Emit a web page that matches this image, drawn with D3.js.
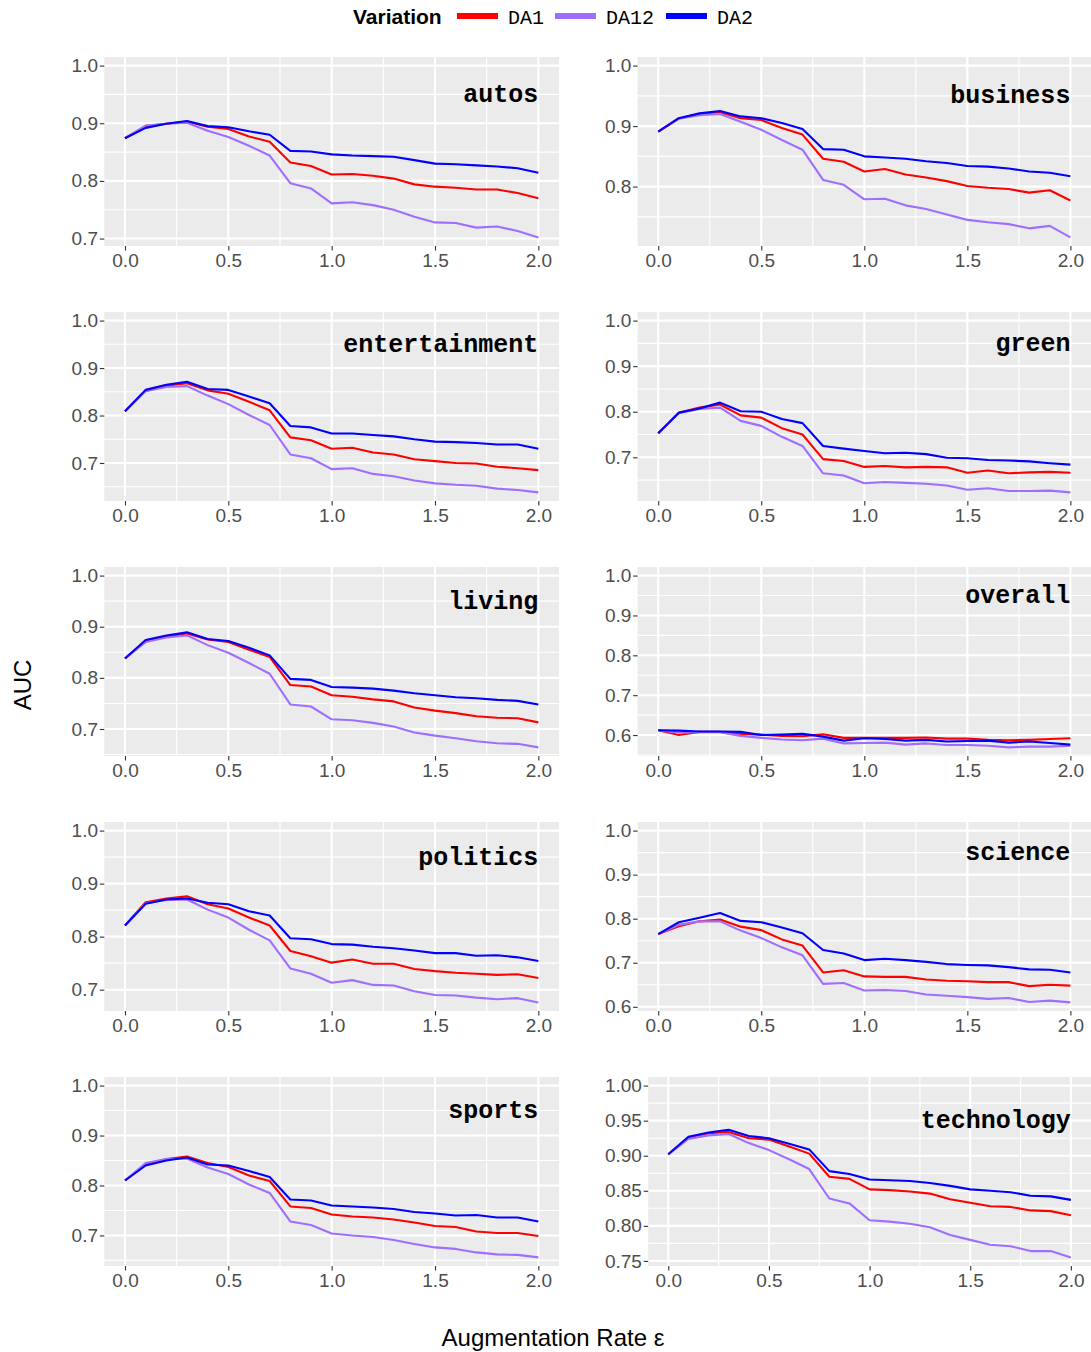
<!DOCTYPE html>
<html><head><meta charset="utf-8">
<script src="https://cdn.jsdelivr.net/npm/d3@7"></script>
<style>body{margin:0;background:#fff}</style>
</head><body>
<svg id="chart" width="1091" height="1352"></svg>
<script>
// ---------- data ----------
const categories = ["autos","business","entertainment","green","living","overall","politics","science","sports","technology"];
const seriesNames = ["DA1","DA12","DA2"];
const seriesColors = ["#FF0000","#9F6EFF","#0000FF"];
const xValues = [0.0,0.1,0.2,0.3,0.4,0.5,0.6,0.7,0.8,0.9,1.0,1.1,1.2,1.3,1.4,1.5,1.6,1.7,1.8,1.9,2.0];
const xTicks = [0.0,0.5,1.0,1.5,2.0];

const autos_DA1  = [0.874,0.895,0.899,0.903,0.894,0.890,0.877,0.868,0.832,0.826,0.811,0.812,0.809,0.804,0.794,0.790,0.788,0.785,0.785,0.779,0.770];
const autos_DA12 = [0.874,0.896,0.899,0.901,0.887,0.876,0.861,0.844,0.796,0.787,0.761,0.763,0.758,0.750,0.738,0.728,0.727,0.719,0.721,0.713,0.702];
const autos_DA2  = [0.874,0.892,0.899,0.904,0.895,0.893,0.886,0.880,0.852,0.851,0.846,0.844,0.843,0.842,0.836,0.830,0.829,0.827,0.825,0.822,0.814];

const business_DA1  = [0.891,0.913,0.920,0.923,0.913,0.910,0.897,0.886,0.846,0.841,0.825,0.829,0.820,0.815,0.809,0.801,0.798,0.796,0.790,0.794,0.777];
const business_DA12 = [0.891,0.912,0.918,0.920,0.907,0.894,0.877,0.861,0.811,0.803,0.779,0.780,0.769,0.763,0.754,0.745,0.741,0.738,0.731,0.735,0.716];
const business_DA2  = [0.891,0.913,0.921,0.925,0.916,0.913,0.905,0.895,0.862,0.861,0.850,0.848,0.846,0.842,0.839,0.834,0.833,0.830,0.825,0.823,0.817];

const entertainment_DA1  = [0.809,0.853,0.863,0.868,0.853,0.846,0.829,0.811,0.754,0.748,0.730,0.732,0.722,0.718,0.708,0.704,0.700,0.699,0.692,0.689,0.685];
const entertainment_DA12 = [0.809,0.851,0.860,0.862,0.842,0.824,0.801,0.780,0.718,0.710,0.687,0.689,0.677,0.672,0.663,0.657,0.654,0.652,0.646,0.643,0.638];
const entertainment_DA2  = [0.809,0.854,0.865,0.871,0.856,0.854,0.840,0.826,0.778,0.775,0.762,0.762,0.759,0.756,0.750,0.745,0.744,0.742,0.739,0.739,0.730];

const green_DA1  = [0.753,0.798,0.809,0.816,0.792,0.787,0.764,0.750,0.696,0.692,0.679,0.681,0.678,0.679,0.678,0.666,0.671,0.665,0.667,0.668,0.666];
const green_DA12 = [0.753,0.797,0.806,0.809,0.780,0.769,0.745,0.725,0.665,0.660,0.643,0.646,0.644,0.642,0.638,0.629,0.632,0.626,0.626,0.627,0.623];
const green_DA2  = [0.753,0.798,0.807,0.820,0.801,0.800,0.784,0.775,0.725,0.719,0.714,0.709,0.710,0.707,0.699,0.698,0.694,0.693,0.691,0.687,0.684];

const living_DA1  = [0.838,0.872,0.881,0.887,0.875,0.870,0.855,0.841,0.786,0.783,0.766,0.763,0.758,0.754,0.742,0.736,0.731,0.725,0.722,0.721,0.713];
const living_DA12 = [0.838,0.870,0.879,0.883,0.864,0.849,0.829,0.808,0.748,0.744,0.719,0.717,0.712,0.705,0.693,0.687,0.682,0.676,0.672,0.671,0.664];
const living_DA2  = [0.838,0.874,0.883,0.889,0.876,0.872,0.859,0.844,0.798,0.796,0.782,0.781,0.779,0.775,0.770,0.766,0.762,0.760,0.757,0.755,0.748];

const overall_DA1  = [0.612,0.600,0.608,0.608,0.603,0.601,0.598,0.597,0.602,0.593,0.593,0.593,0.593,0.594,0.591,0.591,0.588,0.587,0.588,0.590,0.592];
const overall_DA12 = [0.612,0.606,0.608,0.607,0.598,0.593,0.589,0.587,0.591,0.579,0.580,0.581,0.576,0.579,0.575,0.575,0.573,0.569,0.571,0.571,0.573];
const overall_DA2  = [0.612,0.611,0.609,0.609,0.608,0.600,0.601,0.603,0.596,0.586,0.592,0.590,0.586,0.588,0.584,0.585,0.586,0.581,0.584,0.580,0.576];

const politics_DA1  = [0.821,0.865,0.872,0.876,0.861,0.853,0.836,0.821,0.773,0.763,0.751,0.757,0.749,0.749,0.739,0.735,0.732,0.730,0.728,0.729,0.722];
const politics_DA12 = [0.821,0.863,0.869,0.870,0.851,0.836,0.813,0.793,0.740,0.730,0.713,0.718,0.709,0.708,0.697,0.690,0.689,0.685,0.682,0.684,0.676];
const politics_DA2  = [0.821,0.862,0.870,0.872,0.864,0.861,0.848,0.840,0.797,0.795,0.786,0.785,0.781,0.778,0.774,0.769,0.769,0.764,0.765,0.761,0.754];

const science_DA1  = [0.765,0.783,0.794,0.798,0.782,0.774,0.753,0.739,0.678,0.683,0.669,0.668,0.668,0.662,0.659,0.658,0.656,0.656,0.647,0.650,0.648];
const science_DA12 = [0.765,0.786,0.794,0.794,0.773,0.756,0.735,0.717,0.652,0.654,0.637,0.638,0.636,0.628,0.625,0.622,0.618,0.620,0.611,0.614,0.610];
const science_DA2  = [0.765,0.792,0.802,0.813,0.795,0.792,0.780,0.767,0.729,0.721,0.706,0.709,0.706,0.702,0.697,0.695,0.694,0.690,0.685,0.684,0.678];

const sports_DA1  = [0.810,0.842,0.853,0.858,0.845,0.837,0.820,0.809,0.758,0.755,0.742,0.738,0.736,0.732,0.726,0.719,0.717,0.708,0.705,0.705,0.699];
const sports_DA12 = [0.810,0.845,0.853,0.854,0.836,0.823,0.802,0.785,0.728,0.721,0.704,0.700,0.697,0.691,0.683,0.676,0.673,0.666,0.662,0.661,0.656];
const sports_DA2  = [0.810,0.840,0.850,0.856,0.842,0.840,0.829,0.817,0.772,0.770,0.760,0.758,0.756,0.753,0.747,0.744,0.740,0.741,0.736,0.736,0.728];

const technology_DA1  = [0.902,0.926,0.932,0.934,0.925,0.923,0.913,0.903,0.870,0.867,0.852,0.851,0.849,0.846,0.838,0.833,0.828,0.827,0.822,0.821,0.815];
const technology_DA12 = [0.902,0.924,0.929,0.931,0.918,0.908,0.895,0.881,0.839,0.832,0.808,0.806,0.803,0.798,0.787,0.780,0.773,0.771,0.764,0.764,0.755];
const technology_DA2  = [0.902,0.927,0.933,0.937,0.928,0.925,0.917,0.909,0.878,0.874,0.866,0.865,0.864,0.861,0.857,0.852,0.850,0.848,0.843,0.842,0.837];

const yTicks_autos = [0.7,0.8,0.9,1.0];
const yTicks_business = [0.8,0.9,1.0];
const yTicks_entertainment = [0.7,0.8,0.9,1.0];
const yTicks_green = [0.7,0.8,0.9,1.0];
const yTicks_living = [0.7,0.8,0.9,1.0];
const yTicks_overall = [0.6,0.7,0.8,0.9,1.0];
const yTicks_politics = [0.7,0.8,0.9,1.0];
const yTicks_science = [0.6,0.7,0.8,0.9,1.0];
const yTicks_sports = [0.7,0.8,0.9,1.0];
const yTicks_technology = [0.75,0.80,0.85,0.90,0.95,1.00];
const yDecimals = {technology: 2};

const labelY = 0.95;     // facet label position (data units)
const yUpper = 1.0;      // upper limit included in every y scale

const panelData = {
  autos: [autos_DA1, autos_DA12, autos_DA2],
  business: [business_DA1, business_DA12, business_DA2],
  entertainment: [entertainment_DA1, entertainment_DA12, entertainment_DA2],
  green: [green_DA1, green_DA12, green_DA2],
  living: [living_DA1, living_DA12, living_DA2],
  overall: [overall_DA1, overall_DA12, overall_DA2],
  politics: [politics_DA1, politics_DA12, politics_DA2],
  science: [science_DA1, science_DA12, science_DA2],
  sports: [sports_DA1, sports_DA12, sports_DA2],
  technology: [technology_DA1, technology_DA12, technology_DA2]
};
const panelTicks = {
  autos: yTicks_autos, business: yTicks_business, entertainment: yTicks_entertainment,
  green: yTicks_green, living: yTicks_living, overall: yTicks_overall,
  politics: yTicks_politics, science: yTicks_science, sports: yTicks_sports,
  technology: yTicks_technology
};

// ---------- layout ----------
const svg = d3.select("#chart");
const sansFont = "'Liberation Sans', Arial, Helvetica, sans-serif";
const monoFont = "'Liberation Mono', 'Courier New', monospace";
const tickFontSize = 19;
const panelTop0 = 57, rowPitch = 255, panelH = 189;
const colLabelLeft = [71.7, 605];
const colRight = [559, 1091];
const tickLen = 4.5;

svg.append("rect").attr("width",1091).attr("height",1352).attr("fill","#fff");

// measure text width helper
const measurer = svg.append("text").attr("font-family", sansFont).attr("font-size", tickFontSize).attr("visibility","hidden");
function textW(s){ measurer.text(s); return measurer.node().getComputedTextLength(); }

categories.forEach((cat, i) => {
  const col = i % 2, row = Math.floor(i / 2);
  const dec = yDecimals[cat] || 1;
  const fmt = d3.format("." + dec + "f");
  const ticks = panelTicks[cat];
  const maxW = d3.max(ticks, t => textW(fmt(t)));
  const x0 = colLabelLeft[col] + maxW + 6.2;
  const x1 = colRight[col];
  const y0 = panelTop0 + row * rowPitch;
  const y1 = y0 + panelH;

  const series = panelData[cat];
  const dmin = d3.min(series, s => d3.min(s));
  const span = yUpper - dmin;
  const x = d3.scaleLinear().domain([-0.1, 2.1]).range([x0, x1]);
  const y = d3.scaleLinear().domain([dmin - 0.05*span, yUpper + 0.05*span]).range([y1, y0]);

  const g = svg.append("g");
  g.append("rect").attr("x", x0).attr("y", y0).attr("width", x1 - x0).attr("height", panelH).attr("fill", "#EBEBEB");

  // minor grid
  const step = ticks[1] - ticks[0];
  const yMinor = [ticks[0] - step/2].concat(ticks.map(t => t + step/2)).filter(v => v > y.domain()[0] && v < y.domain()[1]);
  const xStep = xTicks[1] - xTicks[0];
  const xMinor = [xTicks[0] - xStep/2].concat(xTicks.map(t => t + xStep/2)).filter(v => v > x.domain()[0] && v < x.domain()[1]);
  g.selectAll(".ymin").data(yMinor).join("line")
    .attr("x1", x0).attr("x2", x1).attr("y1", d => y(d)).attr("y2", d => y(d))
    .attr("stroke", "#fff").attr("stroke-width", 1.1);
  g.selectAll(".xmin").data(xMinor).join("line")
    .attr("y1", y0).attr("y2", y1).attr("x1", d => x(d)).attr("x2", d => x(d))
    .attr("stroke", "#fff").attr("stroke-width", 1.1);
  // major grid
  g.selectAll(".ymaj").data(ticks).join("line")
    .attr("x1", x0).attr("x2", x1).attr("y1", d => y(d)).attr("y2", d => y(d))
    .attr("stroke", "#fff").attr("stroke-width", 2.1);
  g.selectAll(".xmaj").data(xTicks).join("line")
    .attr("y1", y0).attr("y2", y1).attr("x1", d => x(d)).attr("x2", d => x(d))
    .attr("stroke", "#fff").attr("stroke-width", 2.1);

  // axes
  const yAxis = d3.axisLeft(y).tickValues(ticks).tickFormat(fmt).tickSize(tickLen).tickPadding(1.8);
  const ya = g.append("g").attr("transform", `translate(${x0},0)`).call(yAxis);
  const xAxis = d3.axisBottom(x).tickValues(xTicks).tickFormat(d3.format(".1f")).tickSize(tickLen).tickPadding(3.5);
  const xa = g.append("g").attr("transform", `translate(0,${y1})`).call(xAxis);
  [ya, xa].forEach(a => {
    a.select(".domain").remove();
    a.selectAll(".tick line").attr("stroke", "#333333").attr("stroke-width", 1.1);
    a.selectAll(".tick text").attr("fill", "#4D4D4D").attr("font-family", sansFont).attr("font-size", tickFontSize);
  });

  // lines
  const line = d3.line().x((d, j) => x(xValues[j])).y(d => y(d));
  series.forEach((s, k) => {
    g.append("path").datum(s).attr("d", line)
      .attr("fill", "none").attr("stroke", seriesColors[k]).attr("stroke-width", 2.1)
      .attr("stroke-linejoin", "round");
  });

  // facet label
  g.append("text").attr("x", x(2.0)).attr("y", y(labelY)).attr("dy", "0.3em")
    .attr("text-anchor", "end").attr("font-family", monoFont).attr("font-weight", "bold")
    .attr("font-size", 25).attr("fill", "#000").text(cat);
});

// axis titles
svg.append("text").attr("transform", "translate(31,685) rotate(-90)")
  .attr("text-anchor", "middle").attr("font-family", sansFont).attr("font-size", 24).attr("fill", "#000").text("AUC");
svg.append("text").attr("x", 553).attr("y", 1346)
  .attr("text-anchor", "middle").attr("font-family", sansFont).attr("font-size", 24).attr("fill", "#000").text("Augmentation Rate ε");

// legend
const legend = svg.append("g");
legend.append("text").attr("x", 353).attr("y", 24).attr("font-family", sansFont).attr("font-weight", "bold")
  .attr("font-size", 21).attr("fill", "#000").text("Variation");
const keyX = [457, 555, 666];
seriesNames.forEach((n, k) => {
  legend.append("line").attr("x1", keyX[k]).attr("x2", keyX[k] + 41).attr("y1", 16).attr("y2", 16)
    .attr("stroke", seriesColors[k]).attr("stroke-width", 6);
  legend.append("text").attr("x", keyX[k] + 51).attr("y", 24).attr("font-family", monoFont)
    .attr("font-size", 20).attr("fill", "#000").text(n);
});
</script>
</body></html>
